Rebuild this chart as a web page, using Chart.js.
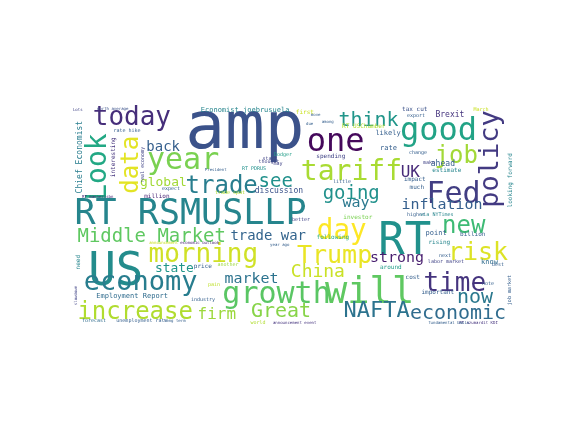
<!DOCTYPE html>
<html>
<head>
<meta charset="utf-8">
<script src="https://cdn.jsdelivr.net/npm/chart.js@4/dist/chart.umd.min.js"></script>
<style>
html, body { margin: 0; padding: 0; background: #fff; }
#wrap { position: relative; width: 576px; height: 432px; }
</style>
</head>
<body>
<div id="wrap"><canvas id="cloud"></canvas></div>
<script>
// word cloud: each word sits on a 400 x 200 canvas (x right, y down)
const words = [
	'amp', 'RT', 'will', 'US', 'RT RSMUSLLP', 'today', 'one', 'good', 'year', 'tariff',
	'trade', 'see', 'think', 'job', 'Fed', 'inflation', 'UK', 'going', 'way', 'day',
	'Trump', 'China', 'morning', 'Middle Market', 'trade war', 'economy', 'increase', 'state', 'market', 'growth',
	'Great', 'firm', 'NAFTA', 'economic', 'time', 'now', 'risk', 'new', 'strong', 'Look',
	'data', 'policy', 'back', 'global', 'discussion', 'Employment Report', 'Chief Economist', 'Economist joebrusuela', 'spending', 'interesting',
	'rate hike', 'need', 'Brexit', 'tax cut', 'export', 'likely', 'rate', 'change', 'ahead', 'make',
	'estimate', 'impact', 'much', 'March', 'first', 'million', 'expect', 'start', 'thought', 'Dodger',
	'trade spat', 'RT USChamber', 'unemployment rate', 'forecast', 'point', 'rising', 'billion', 'labor market', 'know', 'around',
	'important', 'cost', 'higher', 'via NYTimes', 'investor', 'following', 'north average', 'looking forward', 'industry', 'price',
	'world', 'better', 'another', 'pain', 'year ago', 'RT PDRUS', 'may', 'due', 'among', 'little',
	'President', 'next', 'note', 'best', 'announcement', 'economic outlook', 'move', 'RT mannerisbn', 'Lots', 'long term',
	'RT azumardit KDI', 'announcement event', 'fundamental basis', 'job market', 'slowdown', 'real economy'
];
// font size of each word on the cloud canvas (bigger = more frequent)
const weights = [
	59.1, 39.4, 33.2, 41.2, 31.4, 23.3, 28.7, 28.7, 26.9, 25.1,
	21.5, 17.0, 17.9, 21.5, 26.9, 13.4, 14.3, 17.0, 13.4, 24.7,
	22.4, 16.1, 23.3, 17.0, 12.5, 24.2, 21.5, 11.6, 13.4, 26.9,
	17.9, 14.3, 19.7, 17.9, 23.3, 17.9, 22.4, 21.5, 13.4, 25.1,
	21.5, 24.2, 12.5, 11.6, 7.2, 6.3, 7.2, 6.3, 5.4, 5.4,
	4.5, 5.4, 7.2, 5.4, 4.5, 6.3, 6.3, 4.5, 7.2, 4.5,
	5.4, 5.4, 5.4, 4.5, 5.4, 5.4, 4.5, 4.5, 4.5, 4.5,
	4.5, 5.4, 4.5, 4.5, 6.3, 5.4, 5.4, 4.5, 6.3, 5.4,
	5.4, 5.4, 4.5, 4.5, 5.4, 5.4, 3.6, 5.4, 4.5, 5.4,
	4.5, 4.5, 4.5, 4.5, 3.6, 4.5, 4.5, 3.6, 3.6, 4.5,
	3.6, 4.5, 4.5, 4.5, 3.6, 3.6, 3.6, 3.6, 3.6, 3.6,
	3.6, 3.6, 3.6, 4.5, 3.6, 4.5
];
const posX = [
	155.0, 299.3, 265.2, 39.4, 106.6, 53.8, 236.5, 327.9, 99.5, 250.0,
	134.4, 182.8, 266.1, 345.0, 342.3, 331.5, 303.7, 250.0, 254.5, 241.9,
	234.8, 220.4, 117.4, 70.8, 175.6, 61.8, 57.3, 92.3, 160.4, 182.8,
	187.3, 129.9, 273.3, 345.9, 343.2, 362.0, 365.6, 352.1, 291.2, 20.6,
	50.2, 375.4, 82.4, 81.5, 185.5, 53.8, 5.4, 155.0, 232.1, 37.6,
	49.3, 5.4, 338.7, 307.3, 308.2, 283.1, 284.0, 310.0, 332.4, 319.9,
	336.0, 307.3, 309.1, 366.5, 208.8, 76.2, 88.7, 177.4, 176.5, 189.1,
	141.6, 261.6, 62.7, 19.7, 326.1, 329.7, 359.3, 335.1, 374.5, 285.8,
	327.9, 305.5, 308.2, 327.0, 256.3, 233.9, 36.7, 393.3, 117.4, 117.4,
	166.7, 205.2, 139.8, 127.2, 186.4, 163.1, 184.6, 213.2, 229.4, 241.9,
	129.0, 334.2, 372.7, 381.7, 82.4, 114.7, 218.6, 23.3, 5.4, 92.3,
	364.5, 199.8, 337.8, 392.4, 2.7, 63.6
];
const posY = [
	27.2, 117.0, 163.5, 144.6, 94.4, 10.2, 31.7, 21.9, 51.4, 55.9,
	68.5, 66.7, 11.1, 44.3, 76.5, 86.4, 57.7, 78.3, 87.3, 111.5,
	133.9, 146.4, 133.0, 115.0, 115.0, 160.7, 182.2, 144.6, 152.7, 168.8,
	182.2, 184.9, 181.4, 184.0, 156.3, 171.5, 128.5, 107.0, 135.7, 53.2,
	52.3, 46.1, 35.3, 68.5, 74.7, 169.7, 45.2, 3.0, 44.3, 45.2,
	21.0, 139.2, 6.6, 2.5, 8.0, 23.7, 37.1, 41.6, 50.5, 50.5,
	56.8, 64.9, 72.0, 3.0, 4.8, 80.1, 73.8, 46.1, 49.6, 43.4,
	77.4, 17.4, 192.1, 192.1, 113.3, 122.2, 114.2, 139.2, 139.2, 143.7,
	167.0, 152.7, 97.1, 97.1, 98.9, 117.7, 2.0, 65.8, 173.3, 143.7,
	193.9, 101.6, 141.9, 159.8, 124.0, 55.9, 52.3, 14.7, 13.8, 66.7,
	56.8, 133.0, 158.1, 141.9, 122.2, 122.2, 7.5, 80.3, 3.0, 192.1,
	193.9, 193.9, 193.9, 164.4, 169.0, 52.3
];
// 1 = word turned to read bottom to top
const vertical = [
	0, 0, 0, 0, 0, 0, 0, 0, 0, 0,
	0, 0, 0, 0, 0, 0, 0, 0, 0, 0,
	0, 0, 0, 0, 0, 0, 0, 0, 0, 0,
	0, 0, 0, 0, 0, 0, 0, 0, 0, 1,
	1, 1, 0, 0, 0, 0, 1, 0, 0, 1,
	0, 1, 0, 0, 0, 0, 0, 0, 0, 0,
	0, 0, 0, 0, 0, 0, 0, 0, 0, 0,
	0, 0, 0, 0, 0, 0, 0, 0, 0, 0,
	0, 0, 0, 0, 0, 0, 0, 1, 0, 0,
	0, 0, 0, 0, 0, 0, 0, 0, 0, 0,
	0, 0, 0, 0, 0, 0, 0, 0, 0, 0,
	0, 0, 0, 1, 1, 1
];
// where each word falls on the viridis colormap
const tones = [
	0.25, 0.5, 0.75, 0.48, 0.45, 0.13, 0.02, 0.58, 0.8, 0.87,
	0.42, 0.5, 0.52, 0.86, 0.18, 0.3, 0.12, 0.5, 0.4, 1.0,
	0.97, 0.92, 0.93, 0.75, 0.32, 0.42, 0.88, 0.52, 0.38, 0.74,
	0.82, 0.85, 0.38, 0.35, 0.15, 0.4, 0.95, 0.68, 0.08, 0.6,
	0.96, 0.17, 0.3, 0.86, 0.25, 0.35, 0.42, 0.45, 0.2, 0.15,
	0.3, 0.45, 0.15, 0.25, 0.3, 0.3, 0.3, 0.3, 0.3, 0.2,
	0.45, 0.3, 0.3, 0.92, 0.92, 0.1, 0.3, 0.2, 0.2, 0.55,
	0.88, 0.88, 0.3, 0.35, 0.3, 0.45, 0.3, 0.2, 0.35, 0.55,
	0.3, 0.3, 0.3, 0.45, 0.8, 0.62, 0.25, 0.45, 0.3, 0.3,
	0.88, 0.2, 0.85, 0.9, 0.3, 0.5, 0.2, 0.3, 0.3, 0.3,
	0.3, 0.3, 0.3, 0.3, 0.92, 0.1, 0.3, 0.1, 0.2, 0.3,
	0.15, 0.15, 0.3, 0.3, 0.2, 0.2
];

const viridis_stops = ['#440154', '#482475', '#414487', '#355f8d', '#2a788e', '#21918c',
	'#22a884', '#44bf70', '#7ad151', '#bddf26', '#fde725'];

function viridis(t) {
	const f = Math.min(Math.max(t, 0), 1) * (viridis_stops.length - 1);
	const i = Math.min(Math.floor(f), viridis_stops.length - 2);
	const k = f - i;
	const a = parseInt(viridis_stops[i].slice(1), 16);
	const b = parseInt(viridis_stops[i + 1].slice(1), 16);
	const mix = (s) => Math.round(((a >> s) & 255) * (1 - k) + ((b >> s) & 255) * k);
	return 'rgb(' + mix(16) + ',' + mix(8) + ',' + mix(0) + ')';
}

// writes every word at the pixel its point landed on
const word_labels = {
	id: 'word_labels',
	afterDatasetsDraw(chart) {
		const ctx = chart.ctx;
		const meta = chart.getDatasetMeta(0);
		const sx = chart.scales.x;
		const unit = Math.abs(sx.getPixelForValue(1) - sx.getPixelForValue(0));
		ctx.save();
		ctx.textAlign = 'left';
		ctx.textBaseline = 'alphabetic';
		meta.data.forEach((pt, i) => {
			ctx.font = (weights[i] * unit).toFixed(2) + 'px "DejaVu Sans Mono"';
			const m = ctx.measureText(words[i]);
			const w = m.actualBoundingBoxLeft + m.actualBoundingBoxRight;
			const up = m.actualBoundingBoxAscent;
			const down = m.actualBoundingBoxDescent;
			ctx.save();
			ctx.translate(pt.x, pt.y);
			if (vertical[i]) ctx.rotate(-Math.PI / 2);
			ctx.fillStyle = viridis(tones[i]);
			ctx.fillText(words[i], -w / 2 + m.actualBoundingBoxLeft, (up - down) / 2);
			ctx.restore();
		});
		ctx.restore();
	}
};

const cloud_chart = new Chart(
		document.getElementById('cloud').getContext('2d'),
		{
			type: 'scatter',
			data: {
				datasets: [{
						data: posX.map((x, i) => ({x: x, y: posY[i]})),
						pointRadius: 0,
						pointHoverRadius: 0
					}]
			},
			options: {
				responsive: true,
				maintainAspectRatio: false,
				animation: false,
				events: [],
				layout: {
					padding: {left: 72, right: 57.6, top: 106.6, bottom: 102.2}
				},
				scales: {
					x: {type: 'linear', min: 0, max: 400, display: false},
					y: {type: 'linear', min: 0, max: 200, reverse: true, display: false}
				},
				plugins: {
					legend: {display: false},
					tooltip: {enabled: false}
				}
			},
			plugins: [word_labels],
		}
);
</script>
</body>
</html>
